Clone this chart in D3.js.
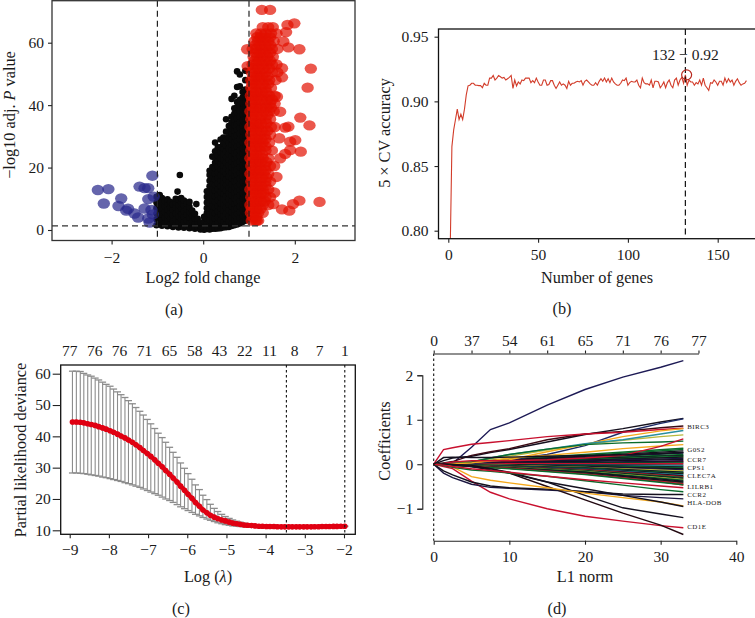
<!DOCTYPE html>
<html><head><meta charset="utf-8">
<script src="https://cdn.jsdelivr.net/npm/d3@7"></script>
<style>
html,body{margin:0;background:#fff}
svg{display:block}
text{font-family:"Liberation Serif",serif;fill:#1a1a1a}
</style></head><body>
<svg id="c" width="755" height="618"></svg>
<script>
// ---------- Panel (a) volcano: [x, y...] columns and [y, x...] rows
const blackColumns = [
[-1.02,1.5,3.4,5.2,7,8.8,10.6],[-.96,2.4,4.2,6,7.8,9.6,11],[-.9,1.4,3.2,5,6.8,8.6,10.2],[-.84,2.2,4,5.8,7.6,9.2],
[-.78,1.2,3,4.8,6.6,8.4,9.8],[-.72,1.9,3.7,5.5,7.3,9],[-.66,1,2.8,4.6,6.4,8.2],[-.6,1.7,3.5,5.3,7.1,8.9,10],
[-.54,.8,2.6,4.4,6.2,8,9.8],[-.48,1.5,3.3,5.1,6.9,8.7,10.2],[-.42,.7,2.4,4.2,6,7.8,9.4],[-.36,1.3,3.1,4.9,6.7,8.4],
[-.3,.6,2.2,4,5.8,7.4],[-.24,1,2.8,4.6,6.2],[-.18,.4,2,3.7,5.2],[-.12,.8,2.4,3.6],[-.06,.2,1.3,2.4],
[.02,.1,1.2,2.6,4.2],
[.08,.3,2,3.6,5.4,7,8.8,10.6,12.4],
[.14,.2,1.6,3.2,5,6.8,8.6,10.4,12.2,14,15.8,17.6,19],
[.2,.4,2.2,4,5.8,7.6,9.4,11.2,13,14.8,16.6,18.4,20.2,23.5],
[.26,.4,1.8,3.6,5.4,7.2,9,10.8,12.6,14.4,16.2,18,19.8,21.6,23.4,25.2,28],
[.32,.5,2.3,4.1,5.9,7.7,9.5,11.3,13.1,14.9,16.7,18.5,20.3,22.1,23.9,26.5],
[.38,.6,1.4,3.2,5,6.8,8.6,10.4,12.2,14,15.8,17.6,19.4,21.2,23,24.8,26.6,29],
[.44,.8,2.6,4.4,6.2,8,9.8,11.6,13.4,15.2,17,18.8,20.6,22.4,24.2,26,27.8,29.6],
[.5,.9,1.8,3.6,5.4,7.2,9,10.8,12.6,14.4,16.2,18,19.8,21.6,23.4,25.2,27,28.8,31.5,35.5],
[.56,1,2.7,4.5,6.3,8.1,9.9,11.7,13.5,15.3,17.1,18.9,20.7,22.5,24.3,26.1,27.9,29.7,31.5,33.3],
[.62,1.3,2.1,3.9,5.7,7.5,9.3,11.1,12.9,14.7,16.5,18.3,20.1,21.9,23.7,25.5,27.3,29.1,30.9,32.7,34.5,36.3,42],
[.68,1.5,3,4.8,6.6,8.4,10.2,12,13.8,15.6,17.4,19.2,21,22.8,24.6,26.4,28.2,30,31.8,33.6,35.4,37.2,39,43],
[.74,1.8,3.3,5.1,6.9,8.7,10.5,12.3,14.1,15.9,17.7,19.5,21.3,23.1,24.9,26.7,28.5,30.3,32.1,33.9,35.7,37.5,39.3,41,45.8,50.8],
[.8,2.1,3.9,5.7,7.5,9.3,11.1,12.9,14.7,16.5,18.3,20.1,21.9,23.7,25.5,27.3,29.1,30.9,32.7,34.5,36.3,38.1,39.9,41.7,46,49.8],
[.86,2.6,4.6,6.4,8.2,10,11.8,13.6,15.4,17.2,19,20.8,22.6,24.4,26.2,28,29.8,31.6,33.4,35.2,37,38.8,40.6,42.4,44.2],
[.92,3,5,6.8,8.6,10.4,12.2,14,15.8,17.6,19.4,21.2,23,24.8,26.6,28.4,30.2,32,33.8,35.6,37.4,39.2,41,43,45,48,51],
[.97,3.8,6,8,10,12,14,16,18,20,22,24,26,28,30,32,34,36,38,40,42,44]
];
const blackExtras = [[-.51,17.6],[-.56,12.3],[-.15,8.3],[-.95,11.2],[-.3,9],[.98,4]];
const redRows = [
[3,1.06,1.14,1.2],[5.5,1.04,1.12,1.2,1.3],[8,1.03,1.1,1.18,1.3,1.42],[10.5,1.05,1.12,1.22,1.36,1.46],[13,1.03,1.1,1.2,1.3,1.42],
[15.5,1.05,1.12,1.24,1.36,1.46],[18,1.03,1.1,1.2,1.32,1.42],[20.5,1.05,1.12,1.22,1.34,1.46,1.55],[23,1.03,1.1,1.2,1.3,1.42],[25.5,1.05,1.12,1.24,1.36,1.5],
[28,1.03,1.1,1.2,1.3,1.44],[30.5,1.05,1.12,1.22,1.34,1.46],[33,1.03,1.1,1.2,1.32,1.48,1.56],[35.5,1.05,1.12,1.24,1.36,1.46],[38,1.03,1.1,1.2,1.32,1.44,1.54],
[40.5,1.05,1.12,1.22,1.34,1.46,1.56],[43,1.04,1.12,1.2,1.32,1.44,1.56],[45.5,1.05,1.12,1.24,1.36,1.48],[48,1.05,1.12,1.22,1.34,1.44,1.58],[50.5,1.06,1.14,1.24,1.36,1.5,1.62],
[53,1.08,1.16,1.28,1.38,1.5,1.6],[55.5,1.1,1.18,1.28,1.4,1.52],[58,1.08,1.16,1.28,1.38,1.5,1.62],[60.5,1.12,1.2,1.3,1.42,1.54],[63,1.16,1.26,1.36,1.48,1.6],[65,1.3,1.42,1.52],
[4.2,1.08,1.16],[6.8,1.06,1.16,1.25],[9.2,1.08,1.16,1.26,1.34],[11.8,1.08,1.16,1.26,1.32],[14.2,1.08,1.16,1.26,1.36],[16.8,1.07,1.16,1.28,1.38],[19.2,1.08,1.16,1.26,1.36],[21.8,1.07,1.16,1.26,1.38],[24.2,1.08,1.16,1.28],[26.8,1.07,1.16,1.26,1.36],
[29.2,1.08,1.16,1.26,1.36],[31.8,1.07,1.16,1.28,1.4],[34.2,1.08,1.16,1.26,1.38],[36.8,1.07,1.16,1.28,1.4],[39.2,1.08,1.16,1.26,1.38,1.48],[41.8,1.07,1.16,1.28,1.4,1.5],[44.2,1.08,1.16,1.28,1.38],[46.8,1.07,1.16,1.3,1.42],[49.2,1.1,1.18,1.28,1.4],[51.8,1.1,1.2,1.32,1.44],
[54.2,1.12,1.22,1.34,1.46],[56.8,1.14,1.24,1.34,1.46],[59.2,1.14,1.24,1.36,1.46],[61.8,1.18,1.26,1.36,1.46]
];
const redExtras = [[1.28,70.5],[1.46,70.5],[1.99,66.2],[1.84,65.7],[2.10,57.9],[2.35,51.7],[2.28,45.6],[2.12,36],[2.32,33.5],[1.86,33.1],[1.79,32.8],[2.01,28.8],[1.66,29.4],[1.90,28.3],[2.13,25.1],[1.90,25.6],[1.79,24.4],[1.68,23],[2.54,9],[2.10,9.4],[1.96,8.3],[1.88,6.2],[1.72,6.6],[1.53,8.3],[1.17,3],[1.81,63.4],[1.75,60.4],[1.86,58.5],[1.72,51.8],[1.72,48.9],[1.61,42.7],[1.68,37.9],[.96,57.9],[.97,52.5],[1.6,17],[1.55,12]];
const bluePoints = [[-2.3,12.8],[-2.07,13.1],[-2.17,8.5],[-1.79,10.1],[-1.85,7.7],[-1.68,6.2],[-1.64,6.8],[-1.5,5.3],[-1.42,4],[-1.39,13.9],[-1.28,13.4],[-1.2,13.4],[-1.11,17.4],[-1.2,9.9],[-1.08,10.7],[-1.28,6.9],[-1.13,6.4],[-1.2,3.7],[-1.17,2.4],[-1.1,5]];

// ---------- Panel (b) accuracy per gene count (1..164)
const accuracy = [.78,.865,.878,.886,.894,.886,.89,.886,.894,.905,.912,.9125,.914,.914,.9125,.9125,.9122,.9122,.9105,.914,.9125,.9125,.918,.918,.92,.9165,.918,.92,.919,.918,.9185,.9165,.9175,.9185,.92,.91,.9165,.912,.915,.9135,.9165,.916,.918,.918,.918,.9145,.916,.9145,.918,.915,.9125,.9125,.9165,.9165,.9125,.913,.916,.916,.9125,.91,.9125,.915,.9125,.9135,.9125,.91,.9155,.9125,.914,.914,.915,.9155,.915,.916,.9125,.9155,.9165,.915,.9135,.9125,.9125,.9145,.9125,.9155,.9175,.9155,.918,.915,.9175,.9145,.918,.915,.9135,.9125,.9125,.914,.9165,.916,.918,.9125,.9145,.9155,.915,.915,.9165,.9125,.9105,.918,.9145,.9135,.9135,.9125,.9165,.9105,.9155,.9155,.915,.9105,.9125,.915,.9105,.9145,.9165,.9125,.9105,.9165,.918,.9125,.9165,.9185,.914,.9205,.9125,.9165,.915,.915,.9125,.9145,.9135,.9165,.9125,.918,.9125,.9105,.9085,.9145,.914,.9165,.915,.9125,.9155,.9155,.9125,.918,.9145,.9175,.915,.9165,.9125,.9155,.9175,.9145,.9125,.9135,.914,.916];

// ---------- Panel (c) cross-validation
const logLambda = [-8.93,-8.83,-8.73,-8.64,-8.54,-8.45,-8.35,-8.26,-8.16,-8.07,-7.97,-7.88,-7.78,-7.69,-7.59,-7.5,-7.4,-7.31,-7.21,-7.12,-7.02,-6.93,-6.83,-6.74,-6.64,-6.55,-6.45,-6.36,-6.26,-6.17,-6.07,-5.98,-5.88,-5.79,-5.69,-5.6,-5.5,-5.41,-5.31,-5.22,-5.12,-5.03,-4.93,-4.84,-4.74,-4.65,-4.55,-4.46,-4.36,-4.27,-4.17,-4.08,-3.98,-3.89,-3.79,-3.7,-3.6,-3.51,-3.41,-3.32,-3.22,-3.13,-3.03,-2.94,-2.84,-2.75,-2.65,-2.56,-2.46,-2.37,-2.27,-2.18,-2.08,-1.98];
const cvMean = [44.6,44.6,44.5,44.3,44,43.8,43.5,43.1,42.7,42.3,41.8,41.3,40.7,40.1,39.5,38.8,38.1,37.3,36.4,35.5,34.5,33.6,32.5,31.4,30.3,29.1,27.9,26.7,25.4,24.1,22.8,21.5,20.2,18.9,17.7,16.5,15.6,14.8,14.2,13.7,13.3,13,12.6,12.3,12.1,11.9,11.7,11.6,11.5,11.4,11.3,11.3,11.2,11.2,11.2,11.15,11.1,11.1,11.1,11.1,11.1,11.1,11.1,11.1,11.1,11.15,11.15,11.2,11.2,11.2,11.25,11.25,11.3,11.3];
const cvUpper = [60.8,60.8,60.7,60.1,59.6,59.2,58.6,58,57.3,56.6,56,55.1,54.2,53.3,52.4,51.4,50.4,49.2,48,46.8,45.4,44,42.5,41,39.6,38.1,36.5,34.9,33.3,31.5,29.8,28.1,26.3,24.5,23,21.2,19.8,18.3,17,16,15.1,14.4,13.8,13.3,12.9,12.6,12.3,12.1,11.9,11.7,11.6,11.5,11.4,11.4,11.3,11.3,11.2,11.2,11.2,11.2,11.2,11.2,11.2,11.2,11.2,11.2,11.2,11.3,11.3,11.3,11.3,11.35,11.4,11.4];
const cvLower = [28.3,28.3,28.2,28.1,27.9,27.7,27.5,27.3,27,26.8,26.5,26.2,25.9,25.6,25.2,24.9,24.5,24.1,23.7,23.2,22.7,22.2,21.7,21.2,20.6,20,19.5,18.9,18.2,17.5,16.9,16.3,15.7,15.1,14.6,14.1,13.6,13.2,12.8,12.4,12.1,11.8,11.6,11.4,11.3,11.2,11.1,11.1,11.1,11.1,11,11,11,11,11,11,11,11,11,11,11,11,11,11,11,11.1,11.1,11.1,11.1,11.1,11.2,11.2,11.2,11.2];
const topCountsC = ["77","76","76","71","65","58","43","22","11","8","7","1"];
const topPosC = [-9,-8.36,-7.73,-7.09,-6.45,-5.81,-5.18,-4.53,-3.9,-3.26,-2.62,-1.98];
const cutoffsC = [-3.47,-1.98];

// ---------- Panel (d) lasso paths
const pathKnots = [0,1.3,2.5,5,7.5,10,15,20,25,30,33];
const mainPaths = [
["#1d1a55",[0,0,.02,.38,.78,.93,1.33,1.68,1.96,2.18,2.33]],
["#14101e",[0,.08,.14,.18,.26,.33,.5,.67,.8,.95,1.03]],
["#1c2a66",[0,0,0,.02,.06,.1,.22,.42,.72,.92,1.02]],
["#3a0a14",[0,.03,.06,.2,.28,.35,.55,.68,.74,.82,.86]],
["#c8102e",[0,.33,.37,.45,.49,.53,.62,.68,.72,.78,.81]],
["#f5a81c",[0,0,.01,.04,.07,.1,.28,.45,.62,.75,.8]],
["#b8b83c",[0,.01,.02,.06,.12,.18,.32,.45,.54,.62,.66]],
["#2a8fa0",[0,.01,.03,.05,.14,.22,.34,.46,.55,.68,.76]],
["#0a6b2b",[0,.01,.02,.05,.14,.22,.34,.44,.48,.5,.52]],
["#f5a81c",[0,0,.01,.03,.08,.14,.2,.27,.35,.41,.44]],
["#c8102e",[0,.02,.05,.08,.08,.08,.1,.14,.2,.4,.57]],
["#c8102e",[0,-.05,-.1,-.38,-.63,-.78,-1,-1.17,-1.28,-1.38,-1.43]],
["#220810",[0,0,-.01,-.03,-.1,-.2,-.5,-.8,-1.1,-1.37,-1.58]],
["#14101e",[0,0,-.01,-.05,-.1,-.18,-.4,-.7,-.98,-1.12,-1.2]],
["#1b1640",[0,-.2,-.3,-.45,-.52,-.54,-.58,-.62,-.7,-.75,-.78]],
["#14101e",[0,-.15,-.24,-.4,-.49,-.53,-.56,-.62,-.67,-.68,-.68]],
["#f5a81c",[0,-.01,-.06,-.28,-.36,-.42,-.53,-.65,-.75,-.85,-.94]],
["#14101e",[0,0,0,-.05,-.13,-.2,-.4,-.55,-.7,-.85,-.95]],
["#0a6b2b",[0,-.03,-.07,-.13,-.16,-.2,-.27,-.37,-.47,-.57,-.62]],
["#c8102e",[0,-.02,-.05,-.1,-.14,-.18,-.27,-.35,-.42,-.49,-.53]],
["#14101e",[0,.15,.16,.15,.15,.16,.18,.2,.21,.24,.26]]
];
const bundleKnots = [0,10,20,33];
const bundlePaths = [
["#b8b83c",[0,.05,.1,.15]],["#2a8fa0",[0,-.04,-.1,-.17]],["#c8102e",[0,-.05,-.14,-.47]],
["#f5a81c",[0,-.03,-.1,-.2]],["#b8b83c",[0,-.06,-.14,-.28]],["#888",[0,-.05,-.12,-.2]],["#888",[0,-.02,-.05,-.12]],
["#0a6b2b",[0,.12,.22,.36]],["#0a6b2b",[0,.1,.2,.33]],["#14101e",[0,.1,.18,.3]],["#14101e",[0,.09,.16,.27]],["#1b1640",[0,.07,.14,.25]],
["#0a6b2b",[0,.07,.13,.22]],["#14101e",[0,.06,.12,.2]],["#0a6b2b",[0,.05,.1,.18]],["#14101e",[0,.05,.09,.16]],["#1b1640",[0,.04,.08,.13]],
["#14101e",[0,.03,.06,.11]],["#c8102e",[0,.02,.03,.07]],["#1b1640",[0,.02,.04,.08]],["#14101e",[0,.02,.03,.05]],["#0a6b2b",[0,.01,.02,.03]],
["#c8102e",[0,.01,.01,.01]],["#14101e",[0,-.01,-.01,-.02]],["#2a8fa0",[0,-.01,-.02,-.04]],["#14101e",[0,-.01,-.03,-.06]],["#0a6b2b",[0,-.02,-.04,-.08]],
["#14101e",[0,-.02,-.05,-.1]],["#1b1640",[0,-.03,-.06,-.13]],["#b8b83c",[0,-.03,-.07,-.15]],["#14101e",[0,-.04,-.08,-.18]],["#0a6b2b",[0,-.04,-.09,-.2]],
["#14101e",[0,-.04,-.1,-.22]],["#2a8fa0",[0,-.05,-.11,-.24]],["#14101e",[0,-.05,-.12,-.26]],["#c8102e",[0,-.06,-.13,-.28]],["#0a6b2b",[0,-.06,-.14,-.3]],
["#14101e",[0,-.07,-.15,-.32]],["#b8b83c",[0,-.07,-.16,-.34]],["#0a6b2b",[0,-.08,-.17,-.36]],["#14101e",[0,-.08,-.18,-.38]],["#0a6b2b",[0,-.09,-.2,-.42]],
["#14101e",[0,-.09,-.2,-.4]],["#c8102e",[0,-.09,-.22,-.44]],["#0a6b2b",[0,-.1,-.23,-.46]]
];
const geneLabels = ["BIRC3","G0S2","CCR7","CPS1","CLEC7A","LILRB1","CCR2","HLA-DOB","CD1E"];
const geneLabelY = [.85,.33,.1,-.08,-.26,-.5,-.68,-.86,-1.41];
const topCountsD = ["0","37","54","61","65","71","76","77"];
const topTicksD = [0,5,10,15,20,25,30,35];

// ---------- drawing
const svg = d3.select("#c");
const minus = s => String(s).replace("-", "\u2212");
const FS = 15.5, TS = 16.3;
function styleAxis(g){
  g.selectAll("text").attr("font-size",FS).style("font-family",'"Liberation Serif",serif').attr("fill","#1a1a1a");
  g.selectAll("line,path").attr("stroke","#222").attr("stroke-width",1.1);
  return g;
}
function frame(x0,y0,x1,y1,col){
  svg.append("rect").attr("x",x0).attr("y",y0).attr("width",x1-x0).attr("height",y1-y0)
    .attr("fill","none").attr("stroke",col||"#222").attr("stroke-width",1.3);
}
function title(t,x,y,rot){
  const el = svg.append("text").attr("font-size",TS).attr("text-anchor","middle");
  if(rot) el.attr("transform",`translate(${x},${y}) rotate(-90)`); else el.attr("x",x).attr("y",y);
  t.forEach(p=>el.append("tspan").attr("font-style",p[1]?"italic":null).text(p[0]));
}
function caption(t,x,y){ svg.append("text").attr("x",x).attr("y",y).attr("font-size",TS).attr("text-anchor","middle").text(t); }
function clip(id,x,y,w,h){ svg.append("clipPath").attr("id",id).append("rect").attr("x",x).attr("y",y).attr("width",w).attr("height",h); }

// (a)
{
  const X = d3.scaleLinear().domain([-2,2]).range([111.6,294.8]);
  const Y = d3.scaleLinear().domain([0,60]).range([230,42.7]);
  const L=52,R=355,T=0.7,B=240.5;
  clip("ca",L,T,R-L,B-T);
  const g = svg.append("g").attr("clip-path","url(#ca)");
  const blacks = blackColumns.flatMap(c=>c.slice(1).map(y=>[c[0],y])).concat(blackExtras);
  g.selectAll(".b").data(blacks).join("circle").attr("cx",d=>X(d[0])).attr("cy",d=>Y(d[1])).attr("r",3.3).attr("fill","#0a0a0a");
  const reds = redRows.flatMap(r=>r.slice(1).map(x=>[x,r[0]])).concat(redExtras);
  g.selectAll(".r").data(reds).join("ellipse").attr("cx",d=>X(d[0])).attr("cy",d=>Y(d[1])).attr("rx",6.2).attr("ry",5.2).attr("fill","#e21000").attr("fill-opacity",.7);
  g.selectAll(".u").data(bluePoints).join("ellipse").attr("cx",d=>X(d[0])).attr("cy",d=>Y(d[1])).attr("rx",6.2).attr("ry",5.2).attr("fill","#2a2a8c").attr("fill-opacity",.72);
  [-1,1].forEach(v=>g.append("line").attr("x1",X(v)).attr("x2",X(v)).attr("y1",T).attr("y2",B).attr("stroke","#222").attr("stroke-width",1.2).attr("stroke-dasharray","6,4"));
  g.append("line").attr("x1",L).attr("x2",R).attr("y1",Y(1.3)).attr("y2",Y(1.3)).attr("stroke","#333").attr("stroke-width",1.2).attr("stroke-dasharray","6,4");
  frame(L,T,R,B,"#333");
  styleAxis(svg.append("g").attr("transform",`translate(0,${B})`).call(d3.axisBottom(X).tickValues([-2,0,2]).tickSize(4).tickPadding(7).tickSizeOuter(0).tickFormat(minus)).call(s=>s.select(".domain").remove()));
  styleAxis(svg.append("g").attr("transform",`translate(${L},0)`).call(d3.axisLeft(Y).tickValues([0,20,40,60]).tickSize(4).tickPadding(4).tickSizeOuter(0)).call(s=>s.select(".domain").remove()));
  title([["Log2 fold change"]],203,283);
  title([["\u2212log10 adj. "],["P",1],[" value"]],15,115,1);
  caption("(a)",174,315);
}
// (b)
{
  const X = d3.scaleLinear().domain([0,150]).range([448.3,717.7]);
  const Y = d3.scaleLinear().domain([.8,.95]).range([230.7,36.7]);
  const L=438.5,R=755,T=29,B=238.7;
  clip("cb",L,T,R-L,B-T);
  const g = svg.append("g").attr("clip-path","url(#cb)");
  g.append("path").attr("d",d3.line().x((d,i)=>X(i+1)).y(d=>Y(d))(accuracy)).attr("fill","none").attr("stroke","#d23c2a").attr("stroke-width",1.1);
  g.append("line").attr("x1",X(132)).attr("x2",X(132)).attr("y1",T).attr("y2",B).attr("stroke","#111").attr("stroke-width",1.2).attr("stroke-dasharray","6,3.5");
  g.append("circle").attr("cx",X(132.7)).attr("cy",Y(.9205)).attr("r",5).attr("fill","none").attr("stroke","#b8281e").attr("stroke-width",1.2);
  svg.append("text").attr("x",X(132)).attr("y",60).attr("font-size",FS).attr("text-anchor","middle").text("132 \u2212 0.92");
  frame(L,T,R+2,B,"#111");
  styleAxis(svg.append("g").attr("transform",`translate(0,${B})`).call(d3.axisBottom(X).tickValues([0,50,100,150]).tickSize(4).tickPadding(6).tickSizeOuter(0)).call(s=>s.select(".domain").remove()));
  styleAxis(svg.append("g").attr("transform",`translate(${L},0)`).call(d3.axisLeft(Y).tickValues([.8,.85,.9,.95]).tickSize(4).tickPadding(6).tickSizeOuter(0).tickFormat(d3.format(".2f"))).call(s=>s.select(".domain").remove()));
  title([["Number of genes"]],597,283);
  title([["5 \u00d7 CV accuracy"]],390,133,1);
  caption("(b)",562,314);
}
// (c)
{
  const X = d3.scaleLinear().domain([-9,-2]).range([69.7,344]);
  const Y = d3.scaleLinear().domain([10,60]).range([530.3,373.7]);
  const L=60.7,R=355.3,T=365,B=534.3;
  const g = svg.append("g");
  const idx = d3.range(logLambda.length);
  g.selectAll(".e").data(idx).join("line").attr("x1",i=>X(logLambda[i])).attr("x2",i=>X(logLambda[i])).attr("y1",i=>Y(cvUpper[i])).attr("y2",i=>Y(cvLower[i])).attr("stroke","#8c8c8c").attr("stroke-width",1.1);
  [cvUpper,cvLower].forEach(arr=>g.selectAll(".cap").data(idx,()=>null).enter().append("line").attr("x1",i=>X(logLambda[i])-3.5).attr("x2",i=>X(logLambda[i])+3.5).attr("y1",i=>Y(arr[i])).attr("y2",i=>Y(arr[i])).attr("stroke","#8c8c8c").attr("stroke-width",1.3));
  g.append("path").attr("d",d3.line().x((d,i)=>X(logLambda[i])).y(d=>Y(d))(cvMean)).attr("fill","none").attr("stroke","#e00012").attr("stroke-width",4.4);
  g.selectAll(".m").data(idx).join("circle").attr("cx",i=>X(logLambda[i])).attr("cy",i=>Y(cvMean[i])).attr("r",2.8).attr("fill","#e00012");
  cutoffsC.forEach(v=>g.append("line").attr("x1",X(v)).attr("x2",X(v)).attr("y1",T).attr("y2",B).attr("stroke","#111").attr("stroke-width",1.1).attr("stroke-dasharray","2.5,2.5"));
  frame(L,T,R,B,"#111");
  styleAxis(svg.append("g").attr("transform",`translate(0,${B})`).call(d3.axisBottom(X).tickValues(d3.range(-9,-1)).tickSize(4).tickPadding(6).tickSizeOuter(0).tickFormat(minus)).call(s=>s.select(".domain").remove()));
  styleAxis(svg.append("g").attr("transform",`translate(${L},0)`).call(d3.axisLeft(Y).tickValues([10,20,30,40,50,60]).tickSize(8).tickPadding(2).tickSizeOuter(0)).call(s=>s.select(".domain").remove()));
  svg.selectAll(".tc").data(topCountsC).join("text").attr("x",(d,i)=>X(topPosC[i])).attr("y",356).attr("font-size",FS).attr("text-anchor","middle").text(d=>d);
  title([["Partial likelihood deviance"]],26,450,1);
  title([["Log ("],["\u03bb",1],[")"]],208,582);
  caption("(c)",181,614);
}
// (d)
{
  const X = d3.scaleLinear().domain([0,40]).range([433.7,736.3]);
  const Y = d3.scaleLinear().domain([-1,2]).range([508.7,375.3]);
  const T=353.5,B=540.7;
  const line = kn => d3.line().x((d,i)=>X(kn[i])).y(d=>Y(d));
  const g = svg.append("g").attr("fill","none").attr("stroke-width",1.4);
  bundlePaths.forEach(p=>g.append("path").attr("d",line(bundleKnots)(p[1])).attr("stroke",p[0]));
  mainPaths.forEach(p=>g.append("path").attr("d",line(pathKnots)(p[1])).attr("stroke",p[0]));
  svg.append("line").attr("x1",X(0)).attr("x2",X(0)).attr("y1",T).attr("y2",B).attr("stroke","#111").attr("stroke-width",1.1).attr("stroke-dasharray","2.5,2.5");
  styleAxis(svg.append("g").attr("transform",`translate(0,${B})`).call(d3.axisBottom(X).tickValues([0,10,20,30,40]).tickSize(4).tickPadding(6).tickSizeOuter(0)));
  styleAxis(svg.append("g").attr("transform",`translate(0,${T})`).call(d3.axisTop(X.copy().domain([0,35]).range([X(0),X(35)])).tickValues(topTicksD).tickSize(3).tickPadding(5).tickSizeOuter(0).tickFormat((d,i)=>topCountsD[i])));
  styleAxis(svg.append("g").attr("transform",`translate(422.3,0)`).call(d3.axisLeft(Y).tickValues([-1,0,1,2]).tickSize(5).tickPadding(4).tickSizeOuter(5).tickFormat(minus)));
  svg.selectAll(".gl").data(geneLabels).join("text").attr("x",X(33.5)).attr("y",(d,i)=>Y(geneLabelY[i])+2.5).attr("font-size",7).attr("letter-spacing",.45).attr("fill","#222").text(d=>d);
  title([["L1 norm"]],585,582);
  title([["Coefficients"]],390,441,1);
  caption("(d)",557,614);
}
</script>
</body></html>
